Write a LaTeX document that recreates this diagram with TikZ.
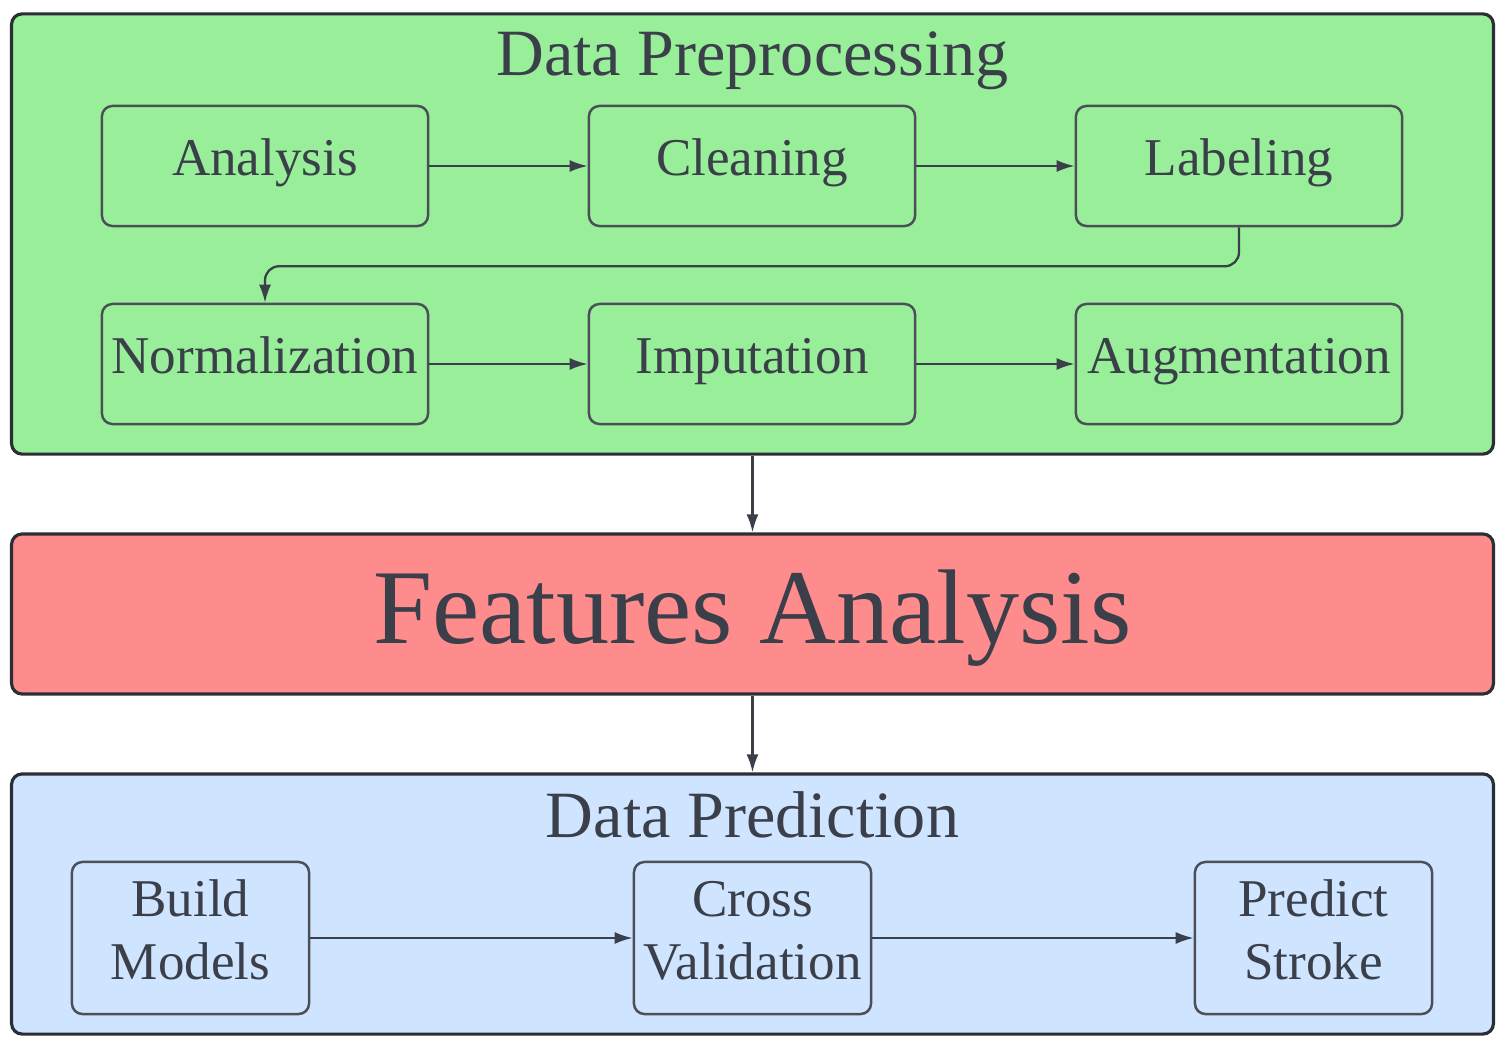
\documentclass[tikz,border=0pt]{standalone}
\usepackage{fontspec}
\setmainfont{Liberation Serif}
\usetikzlibrary{positioning,arrows.meta}
\definecolor{txtgray}{HTML}{3A3F4A}
\definecolor{edgegray}{HTML}{2B2E34}
\definecolor{boxgray}{HTML}{4A4F58}
\definecolor{prepgreen}{HTML}{99EF99}
\definecolor{featred}{HTML}{FF8C8C}
\definecolor{predblue}{HTML}{CFE4FF}

\begin{document}
\begin{tikzpicture}[x=0.01cm,y=-0.01cm,
		stage/.style={draw=edgegray, line width=0.9pt, rounded corners=3pt, minimum width=14.81cm, inner sep=0pt},
		box/.style={draw=boxgray, line width=0.7pt, rounded corners=3pt, inner sep=0pt, text=txtgray},
		task/.style={box, minimum width=3.26cm, minimum height=1.2cm, text height=0.4cm, text depth=0.22cm, font=\fontsize{15.1}{18}\selectfont},
		step2/.style={box, minimum width=2.37cm, minimum height=1.52cm, align=center, text depth=0.16cm, font=\fontsize{15.1}{17.9}\selectfont},
		title/.style={text=txtgray, inner sep=0pt, font=\fontsize{18.8}{22}\selectfont},
		flow/.style={draw=txtgray, line width=0.65pt, -{Latex[length=0.18cm,width=0.12cm]}}]
		\useasboundingbox (0,0) rectangle (1506,1049);

		% three stages
		\node[stage, fill=prepgreen, minimum height=4.4cm] (prep) at (752.5,234) {};
		\node[stage, fill=featred, minimum height=1.6cm, text=txtgray, text height=0.81cm, font=\fontsize{30.2}{34}\selectfont] (feat) at (752.5,614) {Features Analysis};
		\node[stage, fill=predblue, minimum height=2.6cm] (pred) at (752.5,904) {};

		\node[title] (preptitle) at (752.5,61) {Data Preprocessing};
		\node[title] (predtitle) at (752.5,815) {Data Prediction};

		% preprocessing steps
		\node[task] (analysis) at (265,166) {Analysis};
		\node[task] (cleaning) at (752,166) {Cleaning};
		\node[task] (labeling) at (1239,166) {Labeling};
		\node[task] (norm) at (265,364) {Normalization};
		\node[task] (imput) at (752,364) {Imputation};
		\node[task] (augment) at (1239,364) {Augmentation};

		\draw[flow] (analysis) -- (cleaning);
		\draw[flow] (cleaning) -- (labeling);
		\draw[flow, rounded corners=4pt] (labeling.south) -- ++(0,39) -| (norm.north);
		\draw[flow] (norm) -- (imput);
		\draw[flow] (imput) -- (augment);

		% prediction steps
		\node[step2] (build) at (190.5,938) {Build\\Models};
		\node[step2] (cross) at (752.5,938) {Cross\\Validation};
		\node[step2] (predict) at (1313.5,938) {Predict\\Stroke};

		\draw[flow] (build) -- (cross);
		\draw[flow] (cross) -- (predict);

		\draw[flow] (prep) -- (feat);
		\draw[flow] (feat) -- (pred);
	\end{tikzpicture}
\end{document}
